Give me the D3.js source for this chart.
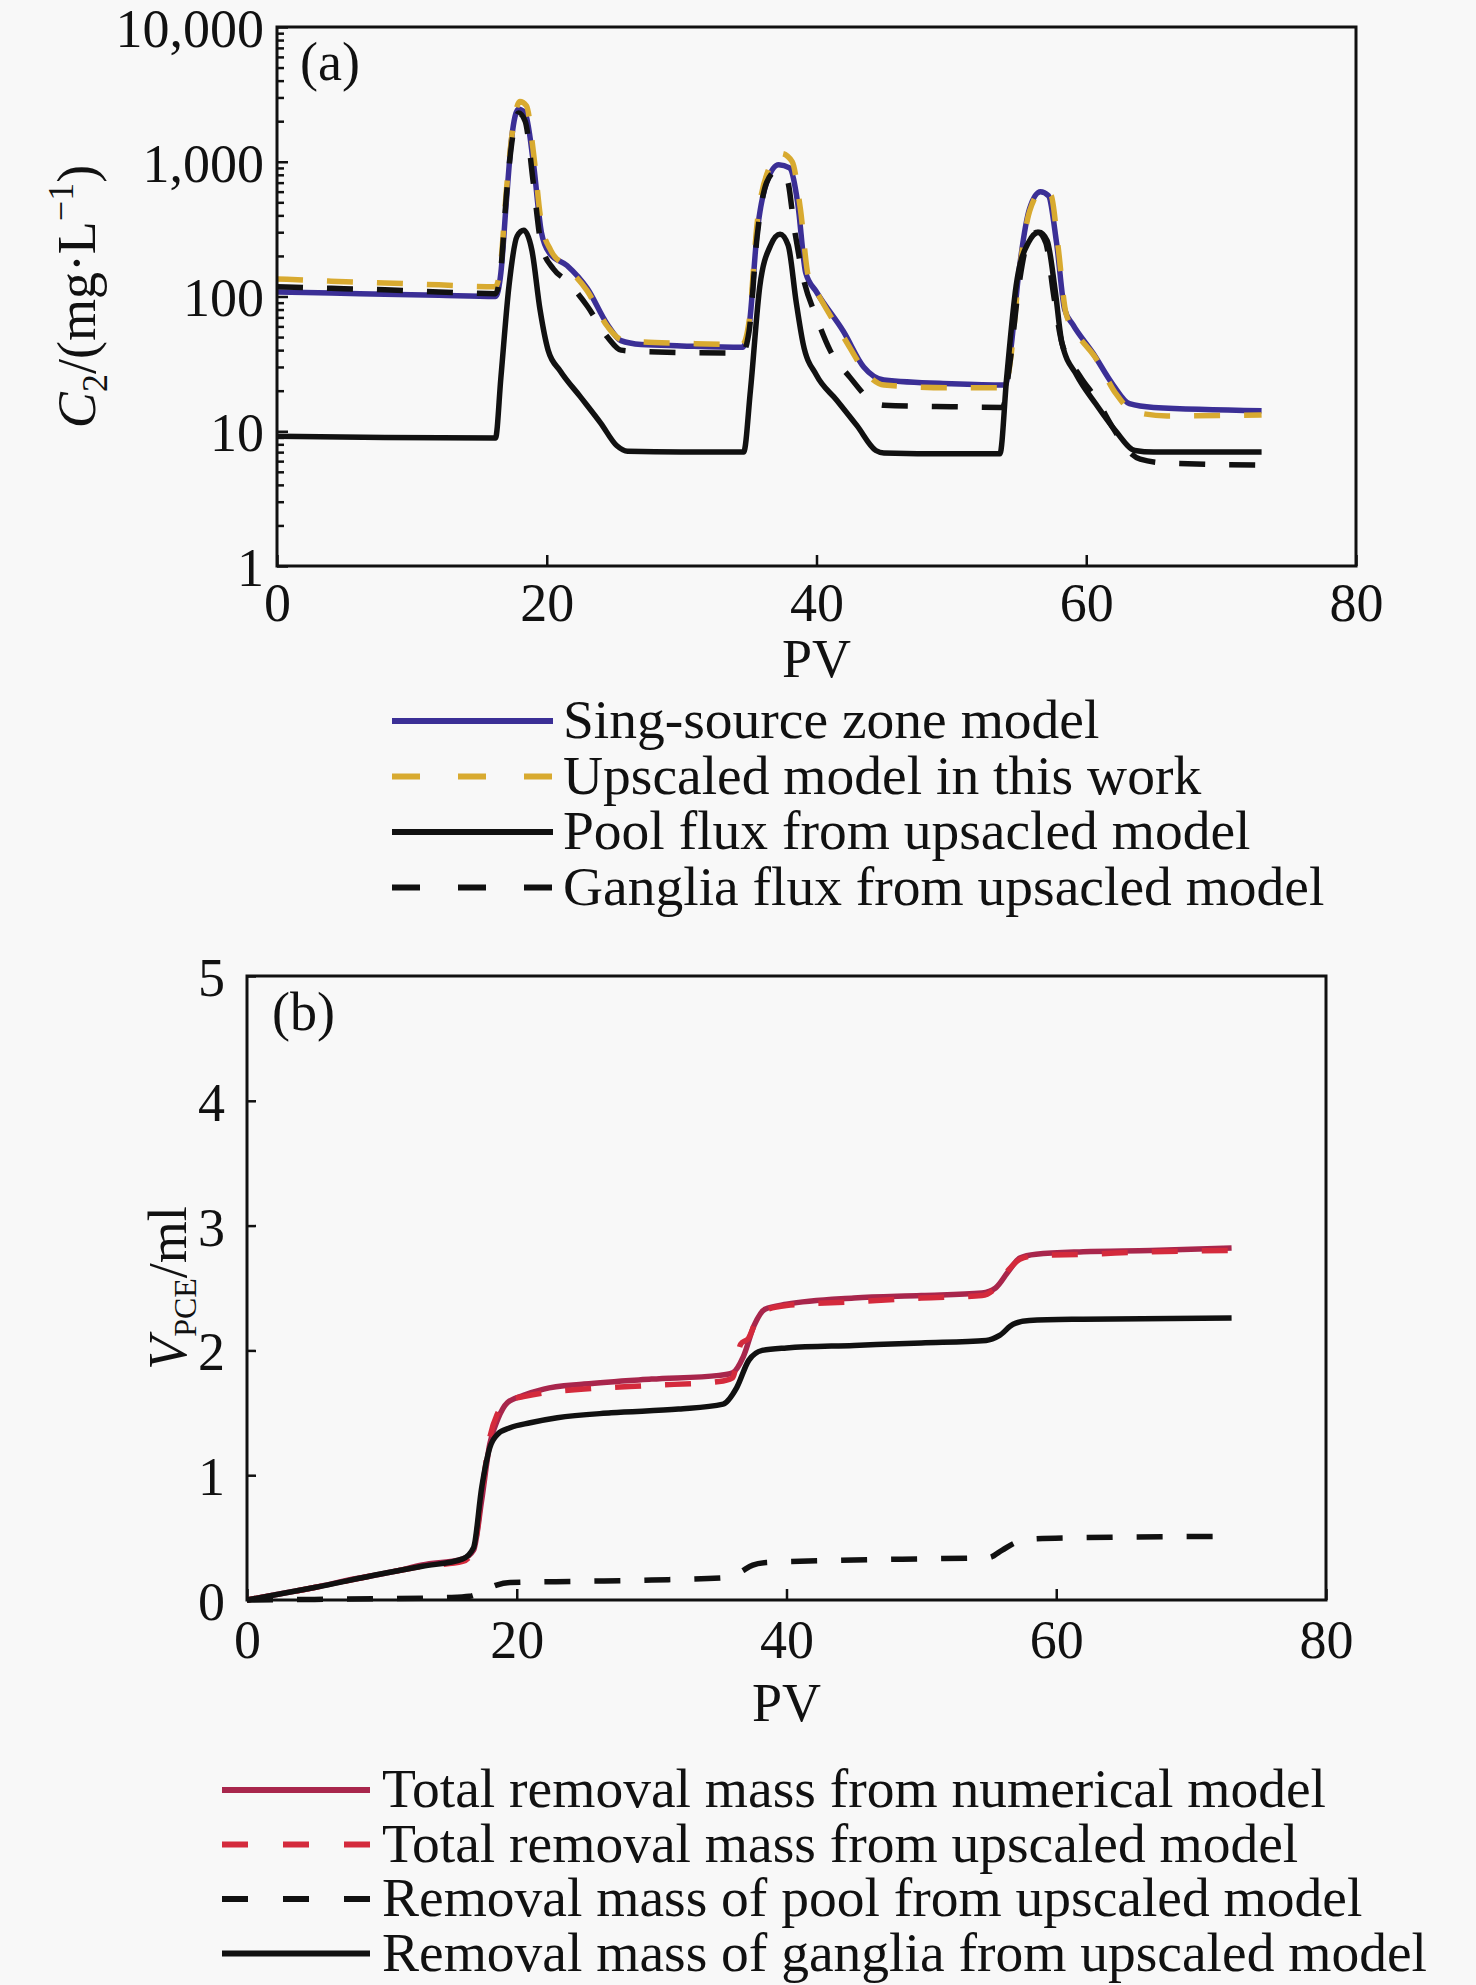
<!DOCTYPE html>
<meta charset="utf-8">
<style>
  body { margin: 0; background: #f8f8f8; }
  svg { display: block; font-family: "Liberation Serif", "Times New Roman", serif; }
  .frame { fill: none; stroke: #111; stroke-width: 3px; }
  .axis path { display: none; }
  .axis line { stroke: #111; stroke-width: 2.5px; }
  .axis text { font-family: "Liberation Serif", serif; font-size: 54px; fill: #111; }
  .curve { fill: none; stroke-width: 5.5px; stroke-linejoin: round; }
  .lbl { font-size: 54px; fill: #111; }
  .leg { font-size: 55.5px; fill: #111; }
</style>
<script src="https://d3js.org/d3.v7.min.js"></script>
<div id="chart"></div>
<script>

// ---------- data, panel (a): PV vs C2 (mg/L), log scale ----------
var singSource = [[0,108],[4,106],[8,104],[12,102],[16.2,100],[16.6,150],[17.0,500],[17.4,1500],[17.9,2450],
  [18.4,2300],[19.0,1000],[19.6,300],[20.2,210],[21.5,170],[23,115],[24.5,62],[25.5,47],[27,44],[30,43],[34.5,42],
  [35,60],[35.6,300],[36.3,700],[37.2,950],[38,900],[38.6,500],[39.2,150],[40,108],[42,55],[43.5,30],[45,24],
  [50,22.5],[54,22],[54.4,40],[55,150],[55.8,450],[56.6,600],[57.2,560],[57.8,250],[58.4,80],[59,62],[60.5,38],
  [62,22],[63.2,16],[65,15],[73,14.2]];
var upscaled = [[0,135],[4,130],[8,126],[12,122],[16.2,118],[16.6,180],[17.0,600],[17.5,1800],[18.0,2800],
  [18.5,2600],[19.0,1200],[19.6,350],[20.3,220],[21.5,165],[23,110],[24.5,60],[25.5,48],[27,46],[30,45],[34.5,44],
  [35,65],[35.6,350],[36.3,800],[37.4,1150],[38.2,1000],[38.8,450],[39.4,140],[40.2,100],[42,50],[44,25],[45,22],
  [50,21],[54,21],[54.4,35],[55,140],[55.8,430],[56.8,620],[57.4,560],[57.9,240],[58.5,75],[59.2,55],[60.7,35],
  [62.2,19],[63.5,14],[66,13],[73,13.2]];
var poolFlux = [[0,9.2],[8,9.0],[16.2,8.9],[16.6,25],[17.2,120],[17.8,280],[18.3,310],[18.9,220],[19.5,80],
  [20.1,40],[21,28],[22.5,18],[24,11.5],[25.2,7.8],[26,7.1],[30,7.0],[34.6,7.0],[35.1,20],[35.8,120],[36.6,240],
  [37.3,290],[37.9,240],[38.5,90],[39,45],[40,26],[41.5,17],[43,11],[44.4,7.2],[45,6.9],[50,6.8],[53.6,6.8],
  [54.1,25],[54.8,120],[55.7,250],[56.5,300],[57.1,260],[57.7,110],[58.2,45],[59.3,26],[60.7,16],[62.2,10],
  [63.6,7.2],[65,7.0],[73,7.0]];
var gangliaFlux = [[0,118],[4,115],[8,112],[12,108],[16.2,105],[16.6,160],[17.0,550],[17.5,1600],[17.9,2300],
  [18.4,2000],[19.0,700],[19.6,240],[20.5,160],[21.5,130],[23,85],[24.5,50],[25.5,40],[27,39],[34.5,38],[35,55],
  [35.6,280],[36.3,700],[37.0,850],[37.8,750],[38.4,300],[39,140],[40,70],[41,40],[42.5,25],[44.2,16.5],[45,15.6],
  [50,15.2],[53.8,15],[54.3,30],[55,120],[55.7,260],[56.4,300],[57,250],[57.6,100],[58.2,45],[59.5,26],[60.8,17],
  [62,10.5],[63.2,7],[64,6.2],[66,5.8],[73,5.6]];

// ---------- data, panel (b): PV vs removed volume (ml) ----------
var totalNumerical = [[0,0],[2,0.04],[5,0.1],[8,0.17],[11,0.23],[13,0.28],[16,0.33],[16.8,0.4],[17.4,0.8],
  [18,1.25],[18.6,1.45],[19.3,1.58],[20.5,1.64],[22,1.69],[25,1.73],[30,1.77],[35,1.8],[36,1.82],[36.8,1.95],
  [37.6,2.2],[38.4,2.33],[40,2.37],[45,2.42],[50,2.44],[54.5,2.46],[55.5,2.5],[56.5,2.64],[57.3,2.74],[58.5,2.77],
  [62,2.79],[67,2.8],[73,2.82]];
var totalUpscaled = [[0,0],[5,0.1],[10,0.21],[13,0.27],[16,0.31],[16.8,0.4],[17.4,0.85],[18,1.3],[18.6,1.5],
  [19.3,1.6],[20.5,1.63],[22,1.66],[25,1.69],[30,1.72],[35,1.75],[36,1.78],[36.6,2.05],[37.2,2.1],[37.8,2.25],
  [38.4,2.32],[40,2.36],[45,2.39],[50,2.42],[54.5,2.44],[55.5,2.5],[56.5,2.65],[57.3,2.73],[58.5,2.76],[62,2.77],
  [67,2.79],[73,2.8]];
var poolMass = [[0,0],[5,0.005],[10,0.01],[15,0.02],[16.5,0.03],[17.5,0.07],[18.5,0.12],[19.5,0.14],[25,0.15],
  [30,0.16],[35.5,0.18],[36.5,0.22],[37.5,0.28],[38.5,0.3],[45,0.32],[50,0.33],[55,0.34],[56,0.4],[57,0.46],
  [58.5,0.49],[62,0.5],[73,0.51]];
var gangliaMass = [[0,0],[5,0.1],[10,0.21],[13,0.27],[16,0.33],[16.8,0.42],[17.4,0.9],[18,1.22],[18.6,1.33],
  [19.5,1.38],[21,1.42],[23,1.46],[27,1.5],[32,1.53],[35.3,1.57],[36.3,1.7],[37.2,1.92],[38.2,2.0],[40,2.02],
  [45,2.04],[50,2.06],[54.8,2.08],[55.8,2.12],[56.8,2.21],[58,2.24],[62,2.25],[73,2.26]];

// ticks and legend labels
var xTicks = [0, 20, 40, 60, 80];
var yTicksA = [1, 10, 100, 1000, 10000];
var yTicksB = [0, 1, 2, 3, 4, 5];
var legendA = ["Sing-source zone model", "Upscaled model in this work", "Pool flux from upsacled model", "Ganglia flux from upsacled model"];
var legendB = ["Total removal mass from numerical model", "Total removal mass from upscaled model", "Removal mass of pool from upscaled model", "Removal mass of ganglia from upscaled model"];

var W = 1476, H = 1985;
var svg = d3.select("#chart").append("svg").attr("width", W).attr("height", H);
svg.append("rect").attr("width", W).attr("height", H).style("fill", "#f8f8f8");

var line = function(x, y) {
  return d3.line().x(function(d) { return x(d[0]) }).y(function(d) { return y(d[1]) }).curve(d3.curveMonotoneX);
};

// ================= panel (a) =================
var A = {left: 277, right: 1356, top: 27, bottom: 566};
var xa = d3.scaleLinear().domain([0, 80]).range([A.left, A.right]);
var ya = d3.scaleLog().domain([1, 10000]).range([A.bottom, A.top]);

var minorA = [];
[1, 10, 100, 1000].forEach(function(p) { for (var k = 2; k < 10; k++) minorA.push(p * k); });

svg.append("g").attr("class", "axis")
  .attr("transform", "translate(" + A.left + ",0)")
  .call(d3.axisLeft(ya).tickValues(minorA).tickSize(-7).tickFormat(""));
svg.append("g").attr("class", "axis")
  .attr("transform", "translate(" + A.left + ",0)")
  .call(d3.axisLeft(ya).tickValues(yTicksA).tickSize(-11).tickPadding(13).tickFormat(d3.format(",")))
  .selectAll("text").attr("dy", "0.36em");
svg.append("g").attr("class", "axis")
  .attr("transform", "translate(0," + A.bottom + ")")
  .call(d3.axisBottom(xa).tickValues(xTicks).tickSize(-11).tickPadding(17));

var seriesA = [
  {data: singSource, color: "#3b2f96", dash: null},
  {data: upscaled, color: "#d8aa30", dash: "26,24"},
  {data: poolFlux, color: "#111", dash: null},
  {data: gangliaFlux, color: "#111", dash: "26,24"}
];
seriesA.forEach(function(s) {
  svg.append("path").datum(s.data).attr("class", "curve")
    .attr("d", line(xa, ya)).style("stroke", s.color)
    .style("stroke-dasharray", s.dash);
});

svg.append("rect").attr("class", "frame")
  .attr("x", A.left).attr("y", A.top)
  .attr("width", A.right - A.left).attr("height", A.bottom - A.top);

svg.append("text").attr("class", "lbl").attr("x", 300).attr("y", 80).text("(a)");
svg.append("text").attr("class", "lbl").attr("x", (A.left + A.right) / 2).attr("y", 677)
  .attr("text-anchor", "middle").text("PV");

var ylabA = svg.append("text").attr("class", "lbl")
  .attr("transform", "translate(95," + (A.top + A.bottom) / 2 + ") rotate(-90)")
  .attr("text-anchor", "middle");
ylabA.append("tspan").style("font-style", "italic").text("C");
ylabA.append("tspan").attr("dy", 12).style("font-size", "36px").text("2");
ylabA.append("tspan").attr("dy", -12).text("/(mg·L");
ylabA.append("tspan").attr("dy", -22).style("font-size", "36px").text("−1");
ylabA.append("tspan").attr("dy", 22).text(")");

// legend (a)
var legA = svg.append("g");
legendA.forEach(function(name, i) {
  var yy = 721 + i * 55.5;
  var s = seriesA[i];
  legA.append("line").attr("x1", 392).attr("x2", 553).attr("y1", yy).attr("y2", yy)
    .style("stroke", s.color).style("stroke-width", 6)
    .style("stroke-dasharray", s.dash ? "28,38" : null);
  legA.append("text").attr("class", "leg").attr("x", 563).attr("y", yy + 17).text(name);
});

// ================= panel (b) =================
var B = {left: 247, right: 1326, top: 976, bottom: 1600};
var xb = d3.scaleLinear().domain([0, 80]).range([B.left, B.right]);
var yb = d3.scaleLinear().domain([0, 5]).range([B.bottom, B.top]);

svg.append("g").attr("class", "axis")
  .attr("transform", "translate(" + B.left + ",0)")
  .call(d3.axisLeft(yb).tickValues(yTicksB).tickSize(-9).tickPadding(22).tickFormat(d3.format("d")))
  .selectAll("text").attr("dy", "0.36em");
svg.append("g").attr("class", "axis")
  .attr("transform", "translate(0," + B.bottom + ")")
  .call(d3.axisBottom(xb).tickValues(xTicks).tickSize(-11).tickPadding(20));

var seriesB = [
  {data: totalNumerical, color: "#a8264c", dash: null},
  {data: totalUpscaled, color: "#d42a3c", dash: "26,24"},
  {data: poolMass, color: "#111", dash: "26,24"},
  {data: gangliaMass, color: "#111", dash: null}
];
seriesB.forEach(function(s) {
  svg.append("path").datum(s.data).attr("class", "curve")
    .attr("d", line(xb, yb)).style("stroke", s.color)
    .style("stroke-dasharray", s.dash);
});

svg.append("rect").attr("class", "frame")
  .attr("x", B.left).attr("y", B.top)
  .attr("width", B.right - B.left).attr("height", B.bottom - B.top);

svg.append("text").attr("class", "lbl").attr("x", 272).attr("y", 1030).text("(b)");
svg.append("text").attr("class", "lbl").attr("x", (B.left + B.right) / 2).attr("y", 1721)
  .attr("text-anchor", "middle").text("PV");

var ylabB = svg.append("text").attr("class", "lbl")
  .attr("transform", "translate(186," + (B.top + B.bottom) / 2 + ") rotate(-90)")
  .attr("text-anchor", "middle");
ylabB.append("tspan").style("font-style", "italic").text("V");
ylabB.append("tspan").attr("dy", 10).style("font-size", "32px").text("PCE");
ylabB.append("tspan").attr("dy", -10).text("/ml");

// legend (b)
var legB = svg.append("g");
legendB.forEach(function(name, i) {
  var yy = 1790 + i * 54.5;
  var s = seriesB[i];
  legB.append("line").attr("x1", 222).attr("x2", 370).attr("y1", yy).attr("y2", yy)
    .style("stroke", s.color).style("stroke-width", 6)
    .style("stroke-dasharray", s.dash ? "26,35" : null);
  legB.append("text").attr("class", "leg").attr("x", 382).attr("y", yy + 17).text(name);
});

</script>
